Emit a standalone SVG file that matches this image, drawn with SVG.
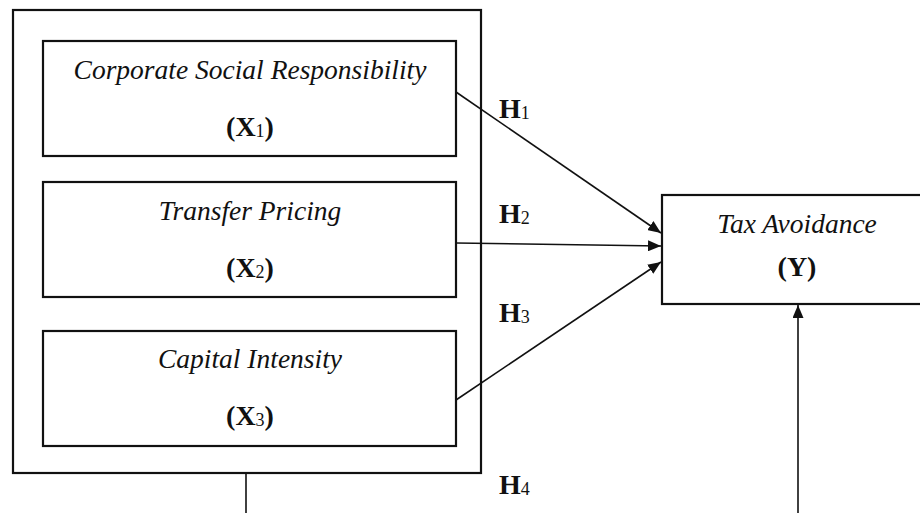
<svg xmlns="http://www.w3.org/2000/svg" width="920" height="513" viewBox="0 0 920 513">
<defs>
<style>
.box{fill:#fff;stroke:#111;stroke-width:2.2}
.ln{fill:none;stroke:#111;stroke-width:1.6}
.it{font-family:"Liberation Serif","Times New Roman",serif;font-style:italic;font-size:27.5px;fill:#111;text-anchor:middle}
.bd{font-family:"Liberation Serif","Times New Roman",serif;font-weight:bold;font-size:28px;fill:#111}
.sub{font-size:18px;font-weight:normal}
.lab{font-family:"Liberation Serif","Times New Roman",serif;font-weight:bold;font-size:28px;fill:#111}
</style>
<marker id="ah" viewBox="0 0 13 11" refX="13" refY="5.5" markerWidth="13" markerHeight="11" markerUnits="userSpaceOnUse" orient="auto">
<path d="M0,0 L13,5.5 L0,11 Z" fill="#111"/>
</marker>
</defs>
<rect width="920" height="513" fill="#fff"/>
<g id="group-x">
<rect class="box" x="13" y="10" width="468" height="463"/>
</g>
<g id="x1">
<rect class="box" x="43" y="41" width="413" height="115"/>
<text class="it" x="250" y="79">Corporate Social Responsibility</text>
<text class="bd" x="250" y="136" text-anchor="middle">(X<tspan class="sub" dy="1">1</tspan><tspan dy="-1">)</tspan></text>
</g>
<g id="x2">
<rect class="box" x="43" y="182" width="413" height="115"/>
<text class="it" x="250" y="220">Transfer Pricing</text>
<text class="bd" x="250" y="277" text-anchor="middle">(X<tspan class="sub" dy="1">2</tspan><tspan dy="-1">)</tspan></text>
</g>
<g id="x3">
<rect class="box" x="43" y="331" width="413" height="115"/>
<text class="it" x="250" y="368">Capital Intensity</text>
<text class="bd" x="250" y="425" text-anchor="middle">(X<tspan class="sub" dy="1">3</tspan><tspan dy="-1">)</tspan></text>
</g>
<g id="y">
<rect class="box" x="662" y="195" width="270" height="109"/>
<text class="it" x="797" y="233">Tax Avoidance</text>
<text class="bd" x="797" y="276" text-anchor="middle">(Y)</text>
</g>
<g id="connectors">
<line class="ln" x1="456" y1="92" x2="661" y2="233" marker-end="url(#ah)"/>
<line class="ln" x1="456" y1="243" x2="661" y2="246" marker-end="url(#ah)"/>
<line class="ln" x1="456" y1="400" x2="661" y2="262" marker-end="url(#ah)"/>
<line class="ln" x1="246" y1="473" x2="246" y2="513"/>
<line class="ln" x1="798" y1="513" x2="798" y2="305" marker-end="url(#ah)"/>
</g>
<g id="labels">
<text class="lab" x="499" y="118">H<tspan class="sub" dy="1">1</tspan></text>
<text class="lab" x="499" y="223">H<tspan class="sub" dy="1">2</tspan></text>
<text class="lab" x="499" y="322">H<tspan class="sub" dy="1">3</tspan></text>
<text class="lab" x="499" y="494">H<tspan class="sub" dy="1">4</tspan></text>
</g>
</svg>
